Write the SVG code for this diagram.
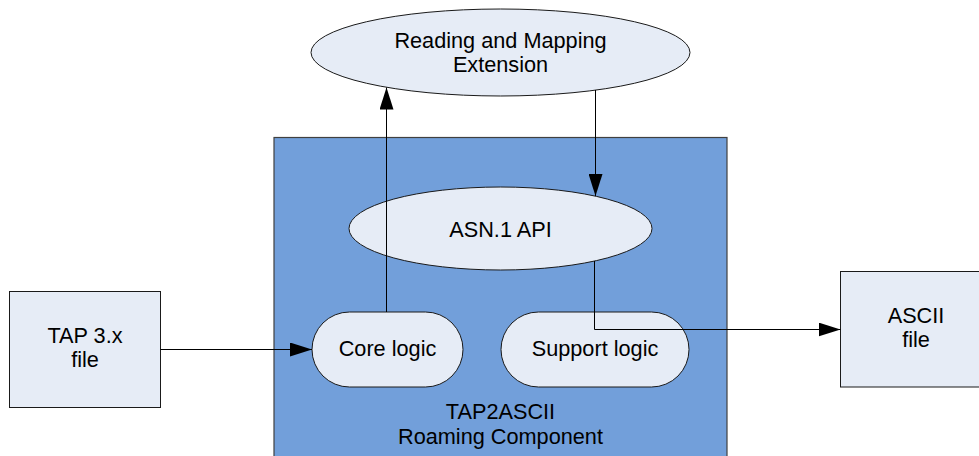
<svg xmlns="http://www.w3.org/2000/svg" width="979" height="456" viewBox="0 0 979 456">
  <style>
    .node { fill: #E6ECF6; stroke: #1a1a1a; stroke-width: 1; }
    .frame { fill: #729FDA; stroke: #404040; stroke-width: 1.2; }
    .label { font-family: "Liberation Sans", Arial, sans-serif; font-size: 21.7px; fill: #000; text-anchor: middle; }
    .conn { fill: none; stroke: #000; stroke-width: 1; }
  </style>
  <defs>
    <marker id="arrow" markerUnits="userSpaceOnUse" markerWidth="22" markerHeight="14" refX="22" refY="7" orient="auto">
      <path d="M0,0 L22,7 L0,14 z" fill="#000"/>
    </marker>
  </defs>
  <rect width="979" height="456" fill="#fff"/>

  <g id="tap2ascii">
    <rect class="frame" x="274" y="137.5" width="453" height="330"/>
    <text class="label" x="500.5" y="419">TAP2ASCII</text>
    <text class="label" x="500.5" y="444">Roaming Component</text>
  </g>

  <g id="reading-mapping">
    <ellipse class="node" cx="500.5" cy="52.5" rx="189.5" ry="43.5"/>
    <text class="label" x="500.5" y="48">Reading and Mapping</text>
    <text class="label" x="500.5" y="72">Extension</text>
  </g>

  <g id="asn1-api">
    <ellipse class="node" cx="500.5" cy="228.5" rx="151.5" ry="41.5"/>
    <text class="label" x="500.5" y="236.5">ASN.1 API</text>
  </g>

  <g id="core-logic">
    <rect class="node" x="312" y="312" width="151" height="75" rx="37.5" ry="37.5"/>
    <text class="label" x="387.5" y="356">Core logic</text>
  </g>

  <g id="support-logic">
    <rect class="node" x="501" y="312" width="188" height="75" rx="37.5" ry="37.5"/>
    <text class="label" x="595" y="356">Support logic</text>
  </g>

  <g id="tap-file">
    <rect class="node" x="9.5" y="291.5" width="151" height="116"/>
    <text class="label" x="85" y="342.5">TAP 3.x</text>
    <text class="label" x="85" y="367">file</text>
  </g>

  <g id="ascii-file">
    <rect class="node" x="840.5" y="271.5" width="151" height="115.5"/>
    <text class="label" x="916" y="322.5">ASCII</text>
    <text class="label" x="916" y="347">file</text>
  </g>

  <g id="connectors">
    <path class="conn" d="M160.5,349.5 L312,349.5" marker-end="url(#arrow)"/>
    <path class="conn" d="M386.5,312 L386.5,87.5" marker-end="url(#arrow)"/>
    <path class="conn" d="M595.5,90 L595.5,196" marker-end="url(#arrow)"/>
    <path class="conn" d="M594.5,261 L594.5,329.5 L840.5,329.5" marker-end="url(#arrow)"/>
  </g>
</svg>
